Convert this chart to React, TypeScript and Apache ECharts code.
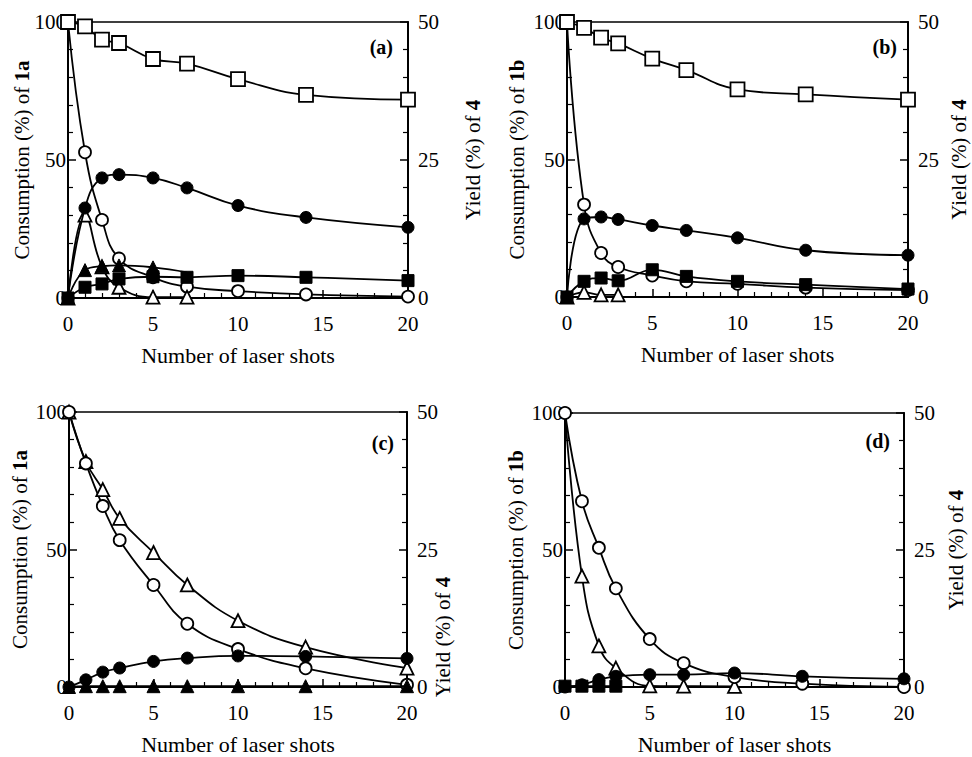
import React, { useEffect, useRef } from "react";
import * as echarts from "echarts";

const shots = [0, 1, 2, 3, 5, 7, 10, 14, 20];
const xTicks = [0, 5, 10, 15, 20];
const leftTicks = [0, 50, 100];
const rightTicks = [0, 25, 50];

// panel (a) – 1a
const aOpenSquare = [100, 98.4, 93.6, 92.4, 86.6, 84.9, 79.3, 73.6, 71.9];
const aOpenCircle = [100, 52.8, 28.3, 14.3, 7.5, 4.1, 2.5, 1.3, 0.5];
const aFilledCircle = [0, 32.6, 43.5, 44.7, 43.5, 39.9, 33.5, 29.2, 25.6];
const aOpenTriangle = [0, 30, 11.3, 3.9, 0.3, 0.3, null, null, null];
const aFilledTriangle = [0, 10.1, 11.5, 11.8, 11.1, 9.3, null, null, null];
const aFilledSquare = [0, 3.9, 5.1, 6.9, 7.7, 7.5, 8.1, 7.5, 6.3];

// panel (b) – 1b
const bOpenSquare = [100, 97.9, 94.3, 92.2, 86.7, 82.5, 75.5, 73.7, 71.8];
const bOpenCircle = [100, 33.6, 16, 10.9, 7.8, 5.7, 4.8, 3.4, 2.5];
const bFilledCircle = [0, 28.4, 29.1, 28.2, 26, 24.2, 21.5, 17, 15.2];
const bOpenTriangle = [0, 1.7, 0.8, 0.8, null, null, null, null, null];
const bFilledSquare = [0, 5.7, 6.9, 5.9, 9.9, 7.5, 5.7, 4.5, 2.9];

// panel (c) – 1a
const cOpenCircle = [100, 81.3, 65.8, 53.4, 37.1, 23, 13.8, 6.8, 0.8];
const cOpenTriangle = [100, 82, 71.8, 61.3, 48.9, 37.1, 24.1, 14.5, 6.9];
const cFilledCircle = [0, 2.6, 5.4, 6.9, 9.3, 10.5, 11.3, 11.1, 10.4];
const cFilledTriangle = [0, 0.3, 0.3, 0.3, 0.3, 0.3, 0.3, 0.3, 0.3];

// panel (d) – 1b
const dOpenCircle = [100, 67.8, 50.8, 36, 17.5, 8.7, 3.6, 1.2, 0];
const dOpenTriangle = [100, 40.5, 15, 6.9, 0.4, 0.3, 0.2, null, null];
const dFilledCircle = [0, 0.8, 2.7, 3.9, 4.5, 4.5, 5.1, 3.9, 3.0];
const dFilledSquare = [0.3, 0.3, 0.3, 0.3, null, null, null, null, null];

const panels = [
  { tag: "(a)", compound: "1a", grid: { left: 68, top: 22, width: 340, height: 276 }, leftGap: 36, rightGap: 54, labelPos: [393, 47], rightName: true },
  { tag: "(b)", compound: "1b", grid: { left: 567, top: 22, width: 341, height: 275 }, leftGap: 40, rightGap: 40, labelPos: [897, 47], rightName: true },
  { tag: "(c)", compound: "1a", grid: { left: 69, top: 412, width: 338, height: 275 }, leftGap: 39, rightGap: 20, labelPos: [394, 443], rightName: false },
  { tag: "(d)", compound: "1b", grid: { left: 565, top: 413, width: 339, height: 274 }, leftGap: 39, rightGap: 41, labelPos: [890, 441], rightName: true },
];

const FONT = "Liberation Serif";

type Kind = "openSquare" | "openCircle" | "filledCircle" | "openTriangle" | "filledTriangle" | "filledSquare";

function symbolFor(kind: Kind) {
  const open = kind.startsWith("open");
  const symbol = kind.endsWith("Square") ? "rect" : kind.endsWith("Circle") ? "circle" : "triangle";
  const size = kind.endsWith("Square") ? (open ? 14 : 12) : kind.endsWith("Triangle") ? 13 : 12;
  return {
    symbol,
    symbolSize: size,
    itemStyle: open
      ? { color: "#fff", borderColor: "#000", borderWidth: 1.8 }
      : { color: "#000", borderColor: "#000", borderWidth: 1 },
  };
}

function mk(panel: number, values: (number | null)[], kind: Kind, hidePts: number[] = []) {
  const data = shots.map((x, i) => {
    const v = values[i];
    if (v === null || v === undefined) return [x, null];
    if (hidePts.includes(i)) return { value: [x, v], symbol: "none" };
    return [x, v];
  });
  return {
    type: "line",
    xAxisIndex: panel,
    yAxisIndex: panel * 2,
    data,
    smooth: 0.45,
    connectNulls: false,
    showSymbol: true,
    lineStyle: { color: "#000", width: 1.8 },
    z: kind.startsWith("open") ? 3 : 4,
    ...symbolFor(kind),
  };
}

export default function App() {
  const ref = useRef<HTMLDivElement>(null);
  useEffect(() => {
    if (!ref.current) return;
    const chart = echarts.init(ref.current, null, { renderer: "svg" });
    const grids = panels.map((p) => ({
      ...p.grid,
      show: true,
      borderColor: "#000",
      borderWidth: 1.5,
      backgroundColor: "transparent",
    }));
    const labelStyle = { color: "#000", fontFamily: FONT, fontSize: 21 };
    const richB = { b: { fontFamily: FONT, fontSize: 21, fontWeight: "bold", color: "#000" } };
    const xAxes = panels.map((p, i) => ({
      gridIndex: i,
      type: "value",
      min: xTicks[0],
      max: xTicks[xTicks.length - 1],
      interval: 5,
      axisLine: { show: true, lineStyle: { color: "#000", width: 2 } },
      axisTick: { show: true, inside: true, length: 8, lineStyle: { color: "#000", width: 1.5 } },
      minorTick: { show: true, splitNumber: 5, length: 5, lineStyle: { color: "#000", width: 1.2 } },
      splitLine: { show: false },
      axisLabel: { ...labelStyle, margin: 15 },
      name: "Number of laser shots",
      nameLocation: "middle",
      nameGap: 46,
      nameMoveOverlap: false,
      nameTextStyle: { ...labelStyle, fontSize: 22 },
    }));
    const yAxes: any[] = [];
    panels.forEach((p, i) => {
      yAxes.push({
        gridIndex: i,
        type: "value",
        position: "left",
        min: leftTicks[0],
        max: leftTicks[leftTicks.length - 1],
        interval: 50,
        axisLine: { show: true, lineStyle: { color: "#000", width: 2 } },
        axisTick: { show: true, inside: true, length: 8, lineStyle: { color: "#000", width: 1.5 } },
        minorTick: { show: true, splitNumber: 5, length: 5, lineStyle: { color: "#000", width: 1.2 } },
        splitLine: { show: false },
        axisLabel: { ...labelStyle, margin: 2 },
        name: "Consumption (%) of {b|" + p.compound + "}",
        nameLocation: "middle",
        nameRotate: 90,
        nameGap: p.leftGap,
        nameMoveOverlap: false,
        nameTextStyle: { ...labelStyle, rich: richB },
      });
      yAxes.push({
        gridIndex: i,
        type: "value",
        position: "right",
        min: rightTicks[0],
        max: rightTicks[rightTicks.length - 1],
        interval: 25,
        axisLine: { show: true, lineStyle: { color: "#000", width: 2 } },
        axisTick: { show: true, inside: true, length: 8, lineStyle: { color: "#000", width: 1.5 } },
        minorTick: { show: true, splitNumber: 5, length: 5, lineStyle: { color: "#000", width: 1.2 } },
        splitLine: { show: false },
        axisLabel: { ...labelStyle, margin: 10 },
        name: p.rightName ? "Yield (%) of {b|4}" : "",
        nameLocation: "middle",
        nameRotate: 90,
        nameGap: p.rightGap,
        nameMoveOverlap: false,
        nameTextStyle: { ...labelStyle, rich: richB },
      });
    });
    const series = [
      mk(0, aOpenCircle, "openCircle"),
      mk(0, aOpenTriangle, "openTriangle"),
      mk(0, aFilledTriangle, "filledTriangle", [5]),
      mk(0, aFilledCircle, "filledCircle"),
      mk(0, aFilledSquare, "filledSquare"),
      mk(0, aOpenSquare, "openSquare"),

      mk(1, bOpenCircle, "openCircle"),
      mk(1, bOpenTriangle, "openTriangle"),
      mk(1, bFilledCircle, "filledCircle"),
      mk(1, bFilledSquare, "filledSquare"),
      mk(1, bOpenSquare, "openSquare"),

      mk(2, cOpenTriangle, "openTriangle"),
      mk(2, cOpenCircle, "openCircle"),
      mk(2, cFilledCircle, "filledCircle"),
      mk(2, cFilledTriangle, "filledTriangle"),

      mk(3, dOpenTriangle, "openTriangle", [0]),
      mk(3, dOpenCircle, "openCircle"),
      mk(3, dFilledCircle, "filledCircle"),
      mk(3, dFilledSquare, "filledSquare"),
    ];
    const graphic: any[] = panels.map((p) => ({
      type: "text",
      x: p.labelPos[0],
      y: p.labelPos[1],
      style: {
        text: p.tag,
        fontFamily: FONT,
        fontSize: 20,
        fontWeight: "bold",
        fill: "#000",
        align: "right",
        verticalAlign: "middle",
      },
      z: 10,
    }));
    // panel (c) right-axis title sits lower, below the "25" label
    graphic.push({
      type: "text",
      x: 443,
      y: 637,
      rotation: Math.PI / 2,
      style: {
        text: "Yield (%) of {b|4}",
        rich: richB,
        fontFamily: FONT,
        fontSize: 21,
        fill: "#000",
        align: "center",
        verticalAlign: "middle",
      },
      z: 10,
    });
    chart.setOption({
      animation: false,
      backgroundColor: "#fff",
      textStyle: { fontFamily: FONT, color: "#000" },
      grid: grids,
      xAxis: xAxes,
      yAxis: yAxes,
      series,
      graphic,
    } as any);
    return () => chart.dispose();
  }, []);
  return <div ref={ref} style={{ position: "fixed", left: 0, top: 0, width: 972, height: 757 }} />;
}
